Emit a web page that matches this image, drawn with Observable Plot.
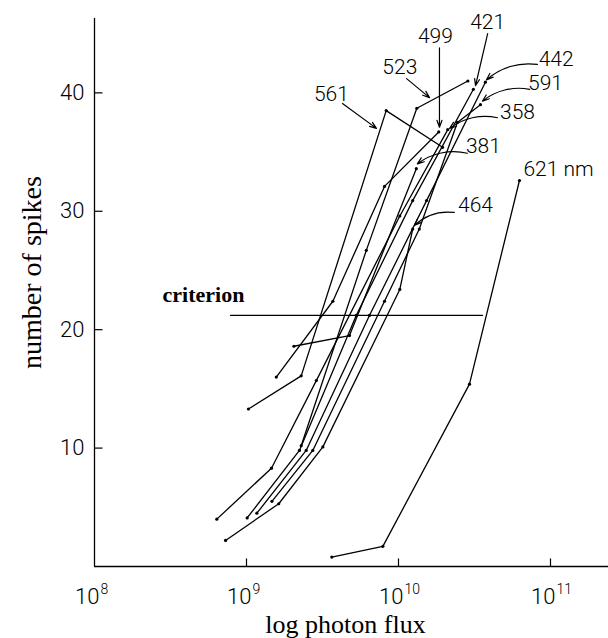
<!DOCTYPE html>
<html>
<head>
<meta charset="utf-8">
<script src="https://cdn.jsdelivr.net/npm/d3@7"></script>
<script src="https://cdn.jsdelivr.net/npm/@observablehq/plot@0.6"></script>
<style>
  body { margin: 0; background: #fff; }
  #chart svg { display: block; }
</style>
</head>
<body>
<div id="chart"></div>
<script>
// ---- axis ticks ----
const yTicks = [10, 20, 30, 40];
const xTicks = [1e8, 1e9, 1e10, 1e11];
const xTickExp = ["8", "9", "10", "11"];

// ---- series: [photon flux, number of spikes] ----
const s561 = [[1.03e9, 13.3], [2.29e9, 16.1], [8.30e9, 38.5], [1.95e10, 35.4]];
const s523 = [[2.29e9, 10.2], [6.14e9, 26.7], [1.32e10, 38.7], [2.86e10, 41.0]];
const s499 = [[1.57e9, 16.0], [3.70e9, 22.4], [8.09e9, 32.1], [1.84e10, 36.7]];
const s381 = [[2.05e9, 18.6], [4.76e9, 19.5], [1.31e10, 33.6]];
const s358 = [[6.38e8, 4.0], [1.46e9, 8.3], [2.88e9, 15.7], [1.02e10, 29.6], [2.11e10, 36.9]];
const s421 = [[1.01e9, 4.1], [2.23e9, 9.8], [5.27e9, 21.2], [1.24e10, 30.9], [3.11e10, 40.3]];
const s442 = [[1.17e9, 4.5], [2.47e9, 9.8], [6.44e9, 21.2], [1.53e10, 30.9], [3.73e10, 40.9]];
const s591 = [[1.47e9, 5.5], [2.73e9, 9.8], [8.09e9, 22.4], [1.37e10, 28.5], [2.44e10, 37.5], [3.46e10, 39.0]];
const s464 = [[7.28e8, 2.2], [1.63e9, 5.3], [3.18e9, 10.1], [1.02e10, 23.4], [1.24e10, 28.5]];
const s621 = [[3.64e9, 0.8], [7.89e9, 1.7], [2.93e10, 15.4], [6.25e10, 32.6]];

const seriesNames = ["561", "523", "499", "381", "358", "421", "442", "591", "464", "621"];
const seriesPoints = [s561, s523, s499, s381, s358, s421, s442, s591, s464, s621];

// ---- criterion level ----
const criterionLevel = 21.2;
const criterionFlux = [7.85e8, 3.57e10];
const criterionLabel = {text: "criterion", x: 5.21e8, y: 22.3};

// ---- curve labels (centre / baseline) ----
const labelText = ["561", "523", "499", "421", "442", "591", "358", "381", "464"];
const labelX = [3.62e9, 1.02e10, 1.75e10, 3.86e10, 1.09e11, 9.27e10, 6.07e10, 3.62e10, 3.21e10];
const labelY = [39.3, 41.6, 44.2, 45.4, 42.3, 40.2, 37.8, 34.9, 29.9];
const unitLabel = {text: "621 nm", x: 6.64e10, y: 33.0};

// ---- pointer arrows ----
const straightArrows = [
  {x1: 4.28e9, y1: 39.1, x2: 7.16e9, y2: 37.0},
  {x1: 1.13e10, y1: 41.2, x2: 1.60e10, y2: 39.6},
  {x1: 1.86e10, y1: 43.8, x2: 1.86e10, y2: 37.1},
  {x1: 3.86e10, y1: 45.0, x2: 3.21e10, y2: 40.6}
];
const curvedArrows = [
  {x1: 8.20e10, y1: 42.4, x2: 3.79e10, y2: 41.1},
  {x1: 7.28e10, y1: 40.3, x2: 3.57e10, y2: 39.3},
  {x1: 4.48e10, y1: 37.9, x2: 2.17e10, y2: 37.0},
  {x1: 2.84e10, y1: 34.9, x2: 1.33e10, y2: 34.0},
  {x1: 2.33e10, y1: 29.9, x2: 1.27e10, y2: 28.8}
];

// ---- build table ----
const data = seriesNames.flatMap((name, i) =>
  seriesPoints[i].map(([x, y]) => ({name, x, y})));
const criterion = criterionFlux.map(x => ({x, y: criterionLevel}));
const labels = labelText.map((t, i) => ({t, x: labelX[i], y: labelY[i]}));

const tickUp = {draw(ctx, size) { const l = Math.sqrt(size / Math.PI); ctx.moveTo(0, 0); ctx.lineTo(0, -l); }};
const tickRight = {draw(ctx, size) { const l = Math.sqrt(size / Math.PI); ctx.moveTo(0, 0); ctx.lineTo(l, 0); }};

const numFont = "Roboto, 'DejaVu Sans', sans-serif";
const serifFont = "'Liberation Serif', 'DejaVu Serif', serif";

const chart = Plot.plot({
  width: 608,
  height: 638,
  marginLeft: 94,
  marginRight: 0,
  marginTop: 18,
  marginBottom: 72,
  x: {type: "log", domain: [1e8, Math.pow(10, 8 + 514 / 152)], axis: null},
  y: {domain: [0, 46.28], axis: null},
  style: {background: "white", color: "black", fontFamily: numFont},
  marks: [
    // axes lines
    Plot.ruleX([1e8], {y1: 0, y2: 46.28, stroke: "black", strokeWidth: 1.3}),
    Plot.ruleY([0], {stroke: "black", strokeWidth: 1.3}),
    // tick marks (inward)
    Plot.dot(xTicks.slice(1), {x: d => d, y: 0, r: 8, symbol: tickUp, stroke: "black", fill: "none", strokeWidth: 1.2}),
    Plot.dot(yTicks, {x: 1e8, y: d => d, r: 8, symbol: tickRight, stroke: "black", fill: "none", strokeWidth: 1.2}),
    // tick labels
    Plot.text(yTicks, {x: 1e8, y: d => d, text: d => String(d), textAnchor: "end", dx: -10, fontSize: 22, fontWeight: 300, fill: "black"}),
    Plot.text(xTicks, {x: d => d, y: 0, text: () => "10", textAnchor: "end", lineAnchor: "bottom", dx: 5, dy: 37, fontSize: 22, fontWeight: 300, fill: "black"}),
    Plot.text(xTicks, {x: d => d, y: 0, text: (d, i) => xTickExp[i], textAnchor: "start", lineAnchor: "bottom", dx: 6, dy: 27, fontSize: 14, fontWeight: 300, fill: "black"}),
    // axis titles
    Plot.text(["number of spikes"], {frameAnchor: "left", rotate: -90, textAnchor: "middle", lineAnchor: "bottom", dx: -54, dy: -20, fontSize: 28, fontFamily: serifFont, fill: "black"}),
    Plot.text(["log photon flux"], {frameAnchor: "bottom", textAnchor: "middle", lineAnchor: "bottom", dx: -6, dy: 66, fontSize: 26, fontFamily: serifFont, fill: "black"}),
    // criterion
    Plot.line(criterion, {x: "x", y: "y", stroke: "black", strokeWidth: 1.3}),
    Plot.text([criterionLabel], {x: "x", y: "y", text: "text", lineAnchor: "bottom", fontSize: 22, fontWeight: 600, fontFamily: serifFont, fill: "black"}),
    // data curves
    Plot.line(data, {x: "x", y: "y", z: "name", stroke: "black", strokeWidth: 1.3, strokeLinejoin: "miter"}),
    Plot.dot(data, {x: "x", y: "y", r: 1.6, fill: "black"}),
    // annotations
    Plot.arrow(straightArrows, {x1: "x1", y1: "y1", x2: "x2", y2: "y2", stroke: "black", strokeWidth: 1.2, headLength: 9, headAngle: 40}),
    Plot.arrow(curvedArrows, {x1: "x1", y1: "y1", x2: "x2", y2: "y2", bend: -25, stroke: "black", strokeWidth: 1.2, headLength: 9, headAngle: 40}),
    Plot.text(labels, {x: "x", y: "y", text: "t", lineAnchor: "bottom", fontSize: 21, fontWeight: 300, fill: "black"}),
    Plot.text([unitLabel], {x: "x", y: "y", text: "text", textAnchor: "start", lineAnchor: "bottom", fontSize: 21, fontWeight: 300, fill: "black"})
  ]
});
document.getElementById("chart").appendChild(chart);
</script>
</body>
</html>
